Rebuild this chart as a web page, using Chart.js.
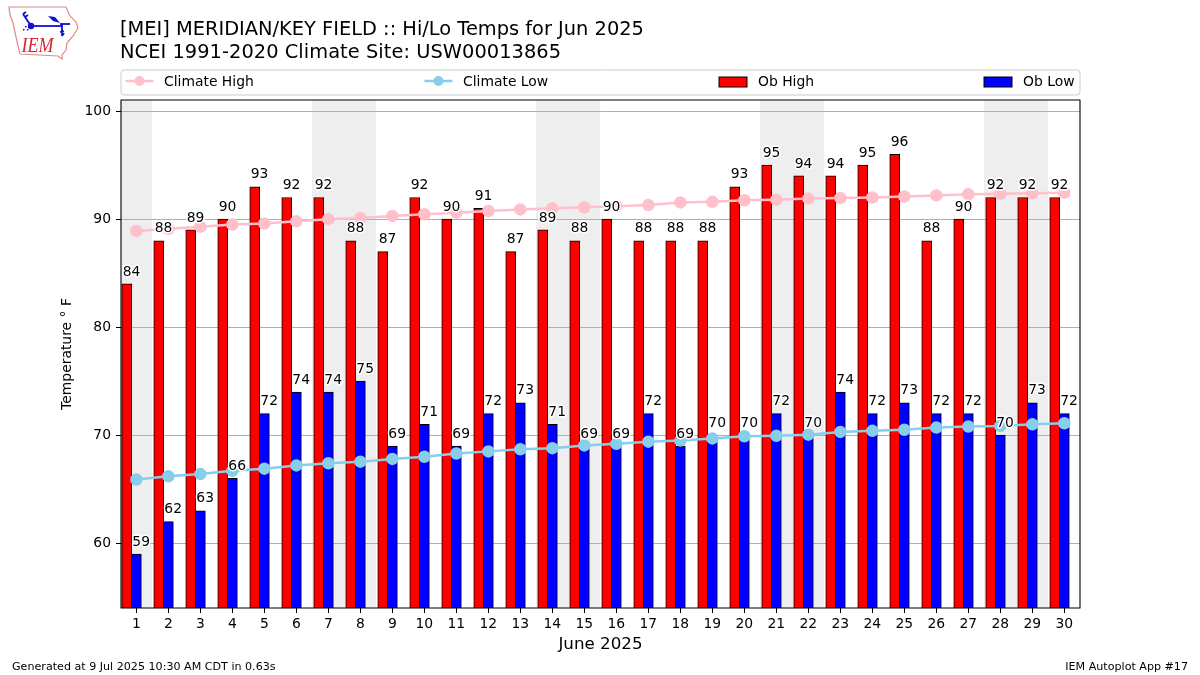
<!DOCTYPE html>
<html>
<head>
<meta charset="utf-8">
<title>MEI Hi/Lo Temps Jun 2025</title>
<script src="https://cdn.jsdelivr.net/npm/chart.js@4/dist/chart.umd.min.js"></script>
<style>
    html, body { margin: 0; padding: 0; background: #fff; }
    canvas { display: block; }
</style>
</head>
<body>
<canvas id="chart" width="1200" height="675"></canvas>
<script>
const days = [1, 2, 3, 4, 5, 6, 7, 8, 9, 10, 11, 12, 13, 14, 15, 16, 17, 18, 19, 20, 21, 22, 23, 24, 25, 26, 27, 28, 29, 30];
const obHigh = [84, 88, 89, 90, 93, 92, 92, 88, 87, 92, 90, 91, 87, 89, 88, 90, 88, 88, 88, 93, 95, 94, 94, 95, 96, 88, 90, 92, 92, 92];
const obLow = [59, 62, 63, 66, 72, 74, 74, 75, 69, 71, 69, 72, 73, 71, 69, 69, 72, 69, 70, 70, 72, 70, 74, 72, 73, 72, 72, 70, 73, 72];
const climateHigh = [88.9, 89.1, 89.3, 89.5, 89.6, 89.8, 90.0, 90.1, 90.3, 90.45, 90.6, 90.75, 90.9, 91.0, 91.1, 91.2, 91.3, 91.55, 91.6, 91.75, 91.8, 91.9, 91.95, 92.0, 92.1, 92.2, 92.3, 92.35, 92.4, 92.45];
const climateLow = [65.9, 66.2, 66.4, 66.7, 66.9, 67.2, 67.4, 67.55, 67.8, 68.0, 68.3, 68.5, 68.7, 68.8, 69.05, 69.2, 69.4, 69.5, 69.7, 69.9, 69.95, 70.05, 70.3, 70.4, 70.5, 70.7, 70.8, 70.85, 71.0, 71.1];
const yTicks = [60, 70, 80, 90, 100];
const weekendDays = [1, 7, 8, 14, 15, 21, 22, 28, 29];

const titleLines = ['[MEI] MERIDIAN/KEY FIELD :: Hi/Lo Temps for Jun 2025', 'NCEI 1991-2020 Climate Site: USW00013865'];
const footerLeft = 'Generated at 9 Jul 2025 10:30 AM CDT in 0.63s';
const footerRight = 'IEM Autoplot App #17';

const FONT = '"DejaVu Sans", sans-serif';
Chart.defaults.font.family = FONT;
Chart.defaults.color = '#000';

// Weekend bands sit under the grid lines
const weekendBands = {
    id: 'weekendBands',
    beforeDraw(chart) {
        const { ctx, chartArea: a, scales: { x } } = chart;
        ctx.save();
        ctx.beginPath();
        ctx.rect(a.left, a.top, a.right - a.left, a.bottom - a.top);
        ctx.clip();
        ctx.fillStyle = '#eeeeee';
        weekendDays.forEach(d => {
            // rounded so two neighbouring days leave no seam
            const x0 = Math.round(x.getPixelForValue(d - 0.5));
            const x1 = Math.round(x.getPixelForValue(d + 0.5));
            ctx.fillRect(x0, a.top, x1 - x0, a.bottom - a.top);
        });
        ctx.restore();
    }
};

// Value labels with a white halo, plus the axes frame
const valueLabels = {
    id: 'valueLabels',
    afterDatasetsDraw(chart) {
        const { ctx, chartArea: a, scales: { x, y } } = chart;
        ctx.save();
        ctx.font = '13.9px ' + FONT;
        ctx.textAlign = 'center';
        ctx.textBaseline = 'alphabetic';
        ctx.lineJoin = 'round';
        const put = (text, px, py) => {
            ctx.strokeStyle = '#fff';
            ctx.lineWidth = 3;
            ctx.strokeText(text, px, py);
            ctx.fillStyle = '#000';
            ctx.fillText(text, px, py);
        };
        days.forEach((d, i) => {
            put(String(obHigh[i]), x.getPixelForValue(d - 0.15), y.getPixelForValue(obHigh[i]) - 8.3);
            put(String(obLow[i]), x.getPixelForValue(d + 0.15), y.getPixelForValue(obLow[i]) - 8.3);
        });
        ctx.strokeStyle = '#000';
        ctx.lineWidth = 1.1;
        ctx.strokeRect(a.left, a.top, a.right - a.left, a.bottom - a.top);
        ctx.restore();
    }
};

// Title, legend strip, footer and logo live outside the plot area
const pageFurniture = {
    id: 'pageFurniture',
    afterDraw(chart) {
        const { ctx } = chart;
        ctx.save();
        ctx.textBaseline = 'alphabetic';
        ctx.textAlign = 'left';
        ctx.fillStyle = '#000';

        ctx.font = '19.4px ' + FONT;
        ctx.fillText(titleLines[0], 120, 35);
        ctx.letterSpacing = '0.05px';
        ctx.fillText(titleLines[1], 120, 57.5);
        ctx.letterSpacing = '0px';

        ctx.font = '11.11px ' + FONT;
        ctx.fillText(footerLeft, 12, 670);
        ctx.textAlign = 'right';
        ctx.fillText(footerRight, 1188, 670);
        ctx.textAlign = 'left';

        drawLegend(chart);
        drawLogo(ctx);
        ctx.restore();
    }
};

function drawLegend(chart) {
    const { ctx } = chart;
    ctx.beginPath();
    ctx.roundRect(121, 70, 959, 25, 3);
    ctx.fillStyle = '#fff';
    ctx.fill();
    ctx.strokeStyle = '#cccccc';
    ctx.lineWidth = 1;
    ctx.stroke();

    const handles = [125.5, 424.5, 719, 984];
    ctx.font = '13.9px ' + FONT;
    chart.data.datasets.forEach((ds, i) => {
        const hx = handles[i];
        if (ds.type === 'line') {
            ctx.strokeStyle = ds.borderColor;
            ctx.lineWidth = 2.5;
            ctx.beginPath();
            ctx.moveTo(hx, 81);
            ctx.lineTo(hx + 28, 81);
            ctx.stroke();
            ctx.fillStyle = ds.borderColor;
            ctx.beginPath();
            ctx.arc(hx + 14, 81, 5, 0, Math.PI * 2);
            ctx.fill();
        } else {
            ctx.fillStyle = ds.backgroundColor;
            ctx.fillRect(hx, 77, 28, 10);
            ctx.strokeStyle = '#000';
            ctx.lineWidth = 1;
            ctx.strokeRect(hx, 77, 28, 10);
        }
        ctx.fillStyle = '#000';
        ctx.fillText(ds.label, hx + (ds.type === 'line' ? 38.5 : 39), 86);
    });
}

function drawLogo(ctx) {
    // traced from the IEM badge, in px
    const outline = [[9, 7], [66, 7], [70, 16], [76, 22], [78, 28], [73, 36], [67, 43], [66, 50], [62, 55], [62, 59], [58, 56], [20, 54], [18, 46], [13, 23], [10, 15]];
    ctx.strokeStyle = '#e08a8a';
    ctx.lineWidth = 1.2;
    ctx.beginPath();
    outline.forEach((p, i) => i ? ctx.lineTo(p[0], p[1]) : ctx.moveTo(p[0], p[1]));
    ctx.closePath();
    ctx.stroke();

    ctx.strokeStyle = '#1010d0';
    ctx.fillStyle = '#1010d0';
    ctx.lineWidth = 1.8;
    const segs = [[[31, 26], [62, 26]], [[31, 26], [23, 14]], [[23, 14], [26, 12]], [[25, 17], [28, 15]], [[60, 24], [70, 24]], [[62, 24], [62, 36]], [[62, 36], [64, 33]], [[60, 32], [64, 31]]];
    segs.forEach(s => {
        ctx.beginPath();
        ctx.moveTo(s[0][0], s[0][1]);
        ctx.lineTo(s[1][0], s[1][1]);
        ctx.stroke();
    });
    ctx.beginPath();
    ctx.arc(31, 26, 3.2, 0, Math.PI * 2);
    ctx.fill();
    ctx.beginPath();
    ctx.moveTo(48, 16);
    ctx.lineTo(55, 17);
    ctx.lineTo(60, 23);
    ctx.lineTo(53, 21);
    ctx.closePath();
    ctx.fill();
    [[25, 26], [23, 29], [27, 29]].forEach(p => ctx.fillRect(p[0], p[1], 1.5, 1.5));

    ctx.save();
    ctx.translate(21.5, 52);
    ctx.scale(0.82, 1);
    ctx.fillStyle = '#d8262c';
    ctx.font = 'italic 22px "Liberation Serif", serif';
    ctx.fillText('IEM', 0, 0);
    ctx.restore();
}

const toPoints = (values, shift) => days.map((d, i) => ({ x: d + shift, y: values[i] }));

new Chart(document.getElementById('chart'), {
    type: 'bar',
    data: {
        datasets: [
            {
                type: 'line',
                label: 'Climate High',
                data: toPoints(climateHigh, 0),
                borderColor: '#ffc0cb',
                backgroundColor: '#ffc0cb',
                borderWidth: 2.5,
                pointRadius: 5,
                tension: 0,
                order: 1
            },
            {
                type: 'line',
                label: 'Climate Low',
                data: toPoints(climateLow, 0),
                borderColor: '#87ceeb',
                backgroundColor: '#87ceeb',
                borderWidth: 2.5,
                pointRadius: 5,
                tension: 0,
                order: 0
            },
            {
                type: 'bar',
                label: 'Ob High',
                data: toPoints(obHigh, -0.3),
                backgroundColor: '#ff0000',
                borderColor: '#000',
                borderWidth: 1,
                borderSkipped: false,
                barThickness: 10,
                grouped: false,
                order: 3
            },
            {
                type: 'bar',
                label: 'Ob Low',
                data: toPoints(obLow, 0),
                backgroundColor: '#0000ff',
                borderColor: '#000',
                borderWidth: 1,
                borderSkipped: false,
                barThickness: 10,
                grouped: false,
                order: 2
            }
        ]
    },
    options: {
        responsive: false,
        animation: false,
        devicePixelRatio: 1,
        layout: { padding: { left: 0, top: 100, right: 120, bottom: 0 } },
        plugins: {
            legend: { display: false },
            title: { display: false },
            tooltip: { enabled: false }
        },
        scales: {
            x: {
                type: 'linear',
                min: 0.52,
                max: 30.49,
                offset: false,
                border: { display: false },
                grid: { drawOnChartArea: true, color: 'rgba(0,0,0,0)', offset: false, tickColor: '#000', tickLength: 5, tickWidth: 1 },
                afterBuildTicks: scale => { scale.ticks = days.map(d => ({ value: d })); },
                afterFit: scale => { scale.height = 67; },
                ticks: {
                    autoSkip: false,
                    maxRotation: 0,
                    padding: 3,
                    font: { size: 13.9 },
                    color: '#000',
                    callback: v => String(v)
                },
                title: {
                    display: true,
                    text: 'June 2025',
                    font: { size: 16.7 },
                    color: '#000',
                    padding: { top: 0, bottom: 20 }
                }
            },
            y: {
                type: 'linear',
                min: 54,
                max: 101.03,
                border: { display: false },
                grid: { color: '#b0b0b0', lineWidth: 1, tickColor: '#000', tickLength: 5 },
                afterBuildTicks: scale => { scale.ticks = yTicks.map(v => ({ value: v })); },
                afterFit: scale => { scale.width = 121; },
                ticks: {
                    padding: 5,
                    font: { size: 13.9 },
                    color: '#000',
                    callback: v => String(v)
                },
                title: {
                    display: true,
                    text: 'Temperature ° F',
                    font: { size: 13.9 },
                    color: '#000',
                    padding: { top: 58.6, bottom: 0 }
                }
            }
        }
    },
    plugins: [weekendBands, valueLabels, pageFurniture]
});
</script>
</body>
</html>
